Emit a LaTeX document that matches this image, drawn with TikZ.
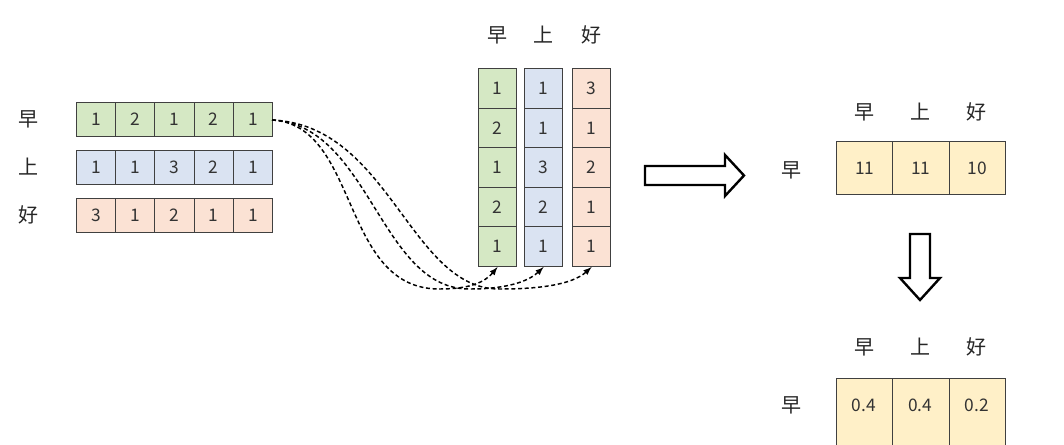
\documentclass[tikz,border=0pt]{standalone}
\usepackage{fontspec}
\setmainfont{Noto Sans CJK SC}
\begin{document}
\begin{tikzpicture}[x=0.75pt,y=-0.75pt,
 cell/.style={draw=black!75,line width=0.8pt,minimum width=#1,minimum height=0,inner sep=0pt,anchor=north west,font=\fontsize{13}{13}\selectfont,text=black!80},
 lab/.style={font=\fontsize{15}{15}\selectfont,text=black!85},
 dashc/.style={densely dashed,line width=1.1pt,-latex}]
\useasboundingbox (0,0) rectangle (1064,445);
\definecolor{g}{HTML}{D5E8C4}\definecolor{b}{HTML}{DAE3F2}\definecolor{o}{HTML}{FBE2D4}\definecolor{y}{HTML}{FFF0C8}
% left rows
\foreach \r/\c/\vals/\y [count=\k] in {早/g/{1,2,1,2,1}/102, 上/b/{1,1,3,2,1}/150, 好/o/{3,1,2,1,1}/198}{
 \node[lab] (L\k) at (28,\y+17) {\r};
 \foreach \v [count=\i] in \vals
   \node[cell=29.4pt,minimum height=25.5pt,fill=\c] (r\k c\i) at (76+39.2*\i-39.2,\y) {\v};
}
% columns
\foreach \r/\c/\vals/\x [count=\k] in {早/g/{1,2,1,2,1}/478, 上/b/{1,1,3,2,1}/524, 好/o/{3,1,2,1,1}/572}{
 \node[lab] (H\k) at (\x+19,35) {\r};
 \foreach \v [count=\i] in \vals
   \node[cell=28.5pt,minimum height=29.7pt,fill=\c] (k\k c\i) at (\x,68+39.6*\i-39.6) {\v};
}
% dashed curves
\coordinate (s) at (272,120);
\draw[dashc] (s) .. controls (360,125) and (340,290) .. (440,289) .. controls (470,289) and (485,282) .. (k1c5.south);
\draw[dashc] (s) .. controls (370,125) and (380,290) .. (470,289) .. controls (510,289) and (530,280) .. (k2c5.south);
\draw[dashc] (s) .. controls (390,125) and (410,290) .. (500,289) .. controls (550,289) and (575,282) .. (k3c5.south);
% right arrow
\draw[line width=1.8pt,fill=white] (645,166) -- (725,166) -- (725,155) -- (744,175.5) -- (725,196) -- (725,185) -- (645,185) -- cycle;
% result
\node[lab] (R) at (791,170) {早};
\foreach \v/\h [count=\i] in {11/早,11/上,10/好}{
 \node[cell=42.2pt,minimum height=39.7pt,fill=y] (m\i) at (836+56.3*\i-56.3,141) {\v};
 \node[lab] at (864+56.3*\i-56.3,112) {\h};
}
% down arrow
\draw[line width=1.8pt,fill=white] (910,234) -- (930,234) -- (930,278) -- (940,278) -- (920,300) -- (900,278) -- (910,278) -- cycle;
\node[lab] (R2) at (791,405) {早};
\foreach \v/\h [count=\i] in {0.4/早,0.4/上,0.2/好}{
 \node[cell=42.2pt,minimum height=60pt,fill=y] (n\i) at (836+56.3*\i-56.3,378) {};
 \node[font=\fontsize{13}{13}\selectfont,text=black!80] at (864+56.3*\i-56.3,405) {\v};
 \node[lab] at (864+56.3*\i-56.3,347) {\h};
}
\end{tikzpicture}
\end{document}
